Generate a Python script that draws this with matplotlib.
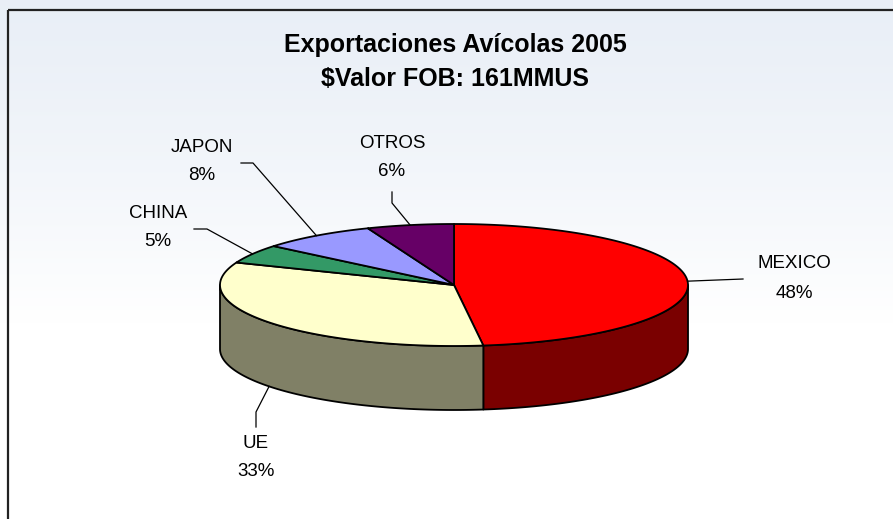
import numpy as np
import matplotlib
matplotlib.use("Agg")
import matplotlib.pyplot as plt
from matplotlib.patches import Polygon, Rectangle

# ---- data ----
categories = ["MEXICO", "UE", "CHINA", "JAPON", "OTROS"]
values = [48, 33, 5, 8, 6]
top_colors = ["#FF0000", "#FFFFCC", "#339966", "#9999FF", "#660066"]
side_colors = ["#7A0000", "#808066", "#1A4D33", "#4D4D80", "#330033"]
title_lines = ["Exportaciones Avícolas 2005", "$Valor FOB: 161MMUS"]

W, H = 893, 519
fig = plt.figure(figsize=(W / 100, H / 100), dpi=100)
ax = fig.add_axes([0, 0, 1, 1])
ax.set_xlim(0, W)
ax.set_ylim(H, 0)
ax.axis("off")

# background tint (watermark-like wash)
grad = np.linspace(0, 1, 256)[:, None]
top_rgb = np.array([0.915, 0.937, 0.968])
bot_rgb = np.array([1.0, 1.0, 1.0])
t = np.clip(grad / 0.62, 0, 1) ** 1.3
img = top_rgb * (1 - t)[..., None] + bot_rgb * t[..., None]
img = np.repeat(img, 2, axis=1)
ax.imshow(img, extent=[0, W, H, 0], aspect="auto", zorder=0)

# chart border
ax.add_patch(Rectangle((8, 10), W + 20, H + 20, fill=False, ec="#222222", lw=1.6, zorder=1))

# ---- pie geometry (layout) ----
cx, cy, a, b, depth = 454, 285, 234, 61, 64

def ell(theta_deg, dy=0.0):
    th = np.radians(theta_deg)
    return cx + a * np.sin(th), cy - b * np.cos(th) + dy

total = float(sum(values))
bounds = np.concatenate([[0], np.cumsum(values)]) / total * 360.0

# sides (visible front half: 90..270 deg)
for i in range(len(values)):
    t0, t1 = max(bounds[i], 90), min(bounds[i + 1], 270)
    if t1 <= t0:
        continue
    ts = np.linspace(t0, t1, 120)
    upper = [ell(t) for t in ts]
    lower = [ell(t, depth) for t in ts[::-1]]
    ax.add_patch(Polygon(upper + lower, closed=True, fc=side_colors[i], ec="black",
                         lw=1.3, joinstyle="round", zorder=2))

# tops
for i in range(len(values)):
    ts = np.linspace(bounds[i], bounds[i + 1], 200)
    pts = [(cx, cy)] + [ell(t) for t in ts]
    ax.add_patch(Polygon(pts, closed=True, fc=top_colors[i], ec="black",
                         lw=1.3, joinstyle="round", zorder=3))

# ---- labels with leader lines (layout positions) ----
label_layout = {
    "MEXICO": dict(path=[(743, 279)], tx=794, ty=264, side=False),
    "UE": dict(path=[(256, 412), (256, 427)], tx=256, ty=443, side=True),
    "CHINA": dict(path=[(207, 229), (194, 229)], tx=158, ty=213, side=False),
    "JAPON": dict(path=[(253, 163), (241, 163)], tx=202, ty=147, side=False),
    "OTROS": dict(path=[(392, 203), (392, 192)], tx=392, ty=143, side=False),
}
fs = 13.5
for i, name in enumerate(categories):
    lay = label_layout[name]
    mid = (bounds[i] + bounds[i + 1]) / 2
    ax0, ay0 = ell(mid, depth if lay["side"] else 0)
    xs = [ax0] + [p[0] for p in lay["path"]]
    ys = [ay0] + [p[1] for p in lay["path"]]
    ax.plot(xs, ys, color="black", lw=0.9, zorder=4)
    pct = f"{values[i] / total * 100:.0f}%"
    ax.text(lay["tx"], lay["ty"], name, ha="center", va="center", fontsize=fs,
            family="Liberation Sans", zorder=5)
    ax.text(lay["tx"], lay["ty"] + 29, pct, ha="center", va="center", fontsize=fs,
            family="Liberation Sans", zorder=5)

# title
ax.text(455, 45, title_lines[0], ha="center", va="center", fontsize=18, fontweight="bold",
        family="Liberation Sans", zorder=5)
ax.text(455, 79, title_lines[1], ha="center", va="center", fontsize=18, fontweight="bold",
        family="Liberation Sans", zorder=5)

fig.savefig("out.png", dpi=100)
